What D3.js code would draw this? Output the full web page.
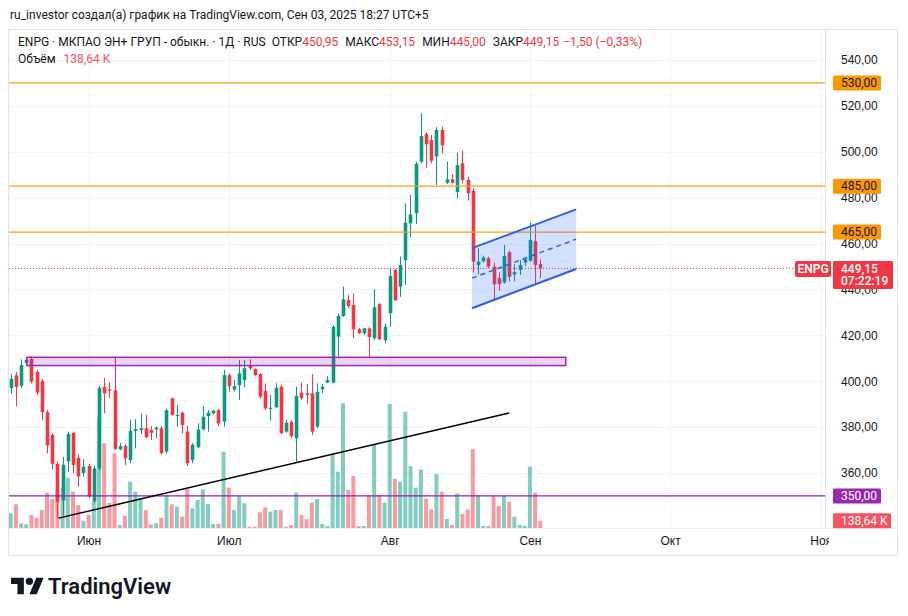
<!DOCTYPE html>
<html>
<head>
<meta charset="utf-8">
<script src="https://cdn.jsdelivr.net/npm/d3@7"></script>
<style>
  body { margin: 0; background: #fff; }
  svg { display: block; font-family: Roboto, "Noto Sans", sans-serif; }
</style>
</head>
<body>
<div id="chart"></div>
<script>
// daily bars, ENPG, mid-May .. 3 Sep 2025 (bar index = position)
const opens  = [397,402.5,398,408,409.7,404,400,386.5,376.5,364,348,365,377.5,366.5,360,363,347.5,362,397.5,396.4,396,370.3,371.7,365.6,378.3,378.7,379.5,378.7,379,379.5,369.3,392.5,384.8,386.3,378,365.6,371.2,379,384.8,386,387.4,382.4,402.6,396.4,398.3,400.5,407,405.3,403.1,395.7,387.9,388.6,397.6,378,382.3,375.1,395,394.7,394.7,380.2,396.5,399.4,399.4,419.4,428.4,435.4,433.2,422.6,420.9,423,418.7,433.6,417.9,429.6,448.5,441.2,452.8,468.8,473.2,495.7,507.7,505.1,497.9,509.5,486.5,488,482.5,495,487.7,483,450.6,452.3,453.6,449.9,445,443,456.2,446.5,448.5,451.7,452.5,461,450.95];
const highs  = [403,404,409.5,410.5,411,405,401,387.5,377.5,365,367,378,378,368,366,364,363,398,401.5,399.6,410.7,373,372.5,383.1,383.4,386,385.3,380.4,380.4,380.5,388,392.8,389.6,386.7,380.5,373,381.6,389.2,387.4,387.5,388,404.9,403.4,400.5,409.2,409.2,409.5,405.6,403.5,399,394,399.1,398.3,383.1,383,397.6,399.4,398.8,403.1,399,398.8,402.2,424.5,429.5,441.2,437.6,438.3,423.3,423.3,423.5,440.1,434,425.2,448.8,449,454.3,477.5,481.2,495.7,516.8,508.5,507.3,510.7,510.9,495.7,490.3,499.6,500.5,489,484.1,457.9,454.5,454.3,451.6,447.5,459.4,456.9,451,452.8,453.6,469.3,467.8,453.15];
const lows   = [394.5,389,397,407.5,399,394,383,368.5,361.5,340.5,341.5,360.5,360,354,358.5,349,347,361,386,392.6,370,369.8,363.5,364.2,370.7,377,375.1,374.4,375.1,368,368.5,385,380.1,377.3,363,364.3,370.7,378.5,378,385.5,380.4,380.2,395.4,395.4,391.8,397.3,404.9,402.4,392.5,387.5,382.8,388.2,377,377.5,375.1,364.5,391.9,390.1,376.5,379.5,394.7,399.1,399,410.7,428,431.8,418.7,420.6,420.2,410.5,418,418,416.5,423.7,435,436.8,441.9,462.7,468.5,495,492.8,495,485.5,499.3,486,486.2,479.7,486.2,478.7,447.3,446.5,451.8,449.2,435.4,439.5,442.5,443.4,443.5,446.3,450.2,452,441.9,445];
const closes = [401,397.5,407,409.3,399.8,395,386.5,372,364,347.5,363.5,377,363.5,358.5,362.7,349.8,362,397,394.7,395.8,370.5,371.7,366.4,378.3,379.1,379.5,375.6,377.5,379.7,368.6,387.4,385.3,385.3,380.9,364.2,372.2,379,384.5,386.3,387.1,381.6,402.6,397.8,397.8,403.4,405.6,405.6,402.6,393.2,388.1,388.4,397.1,377.3,381.9,376.1,393.5,392.6,394,378,395.4,397.6,400.5,423.7,428.4,435.7,432.8,422.6,420.9,423,419.2,432.2,418.2,423.7,445.8,435.4,450.6,469.1,472.7,494.7,506.9,503.3,496.1,509.5,502.9,488,486.5,494.2,487.7,481.9,452.1,452.1,453.9,449.9,442.2,442.3,454.6,445.5,447.5,450.6,453.1,461.5,450.65,449.15];
// volume, thousands of shares
const volumes = [280,450,90,70,247,196,342,671,545,722,760,956,690,437,139,247,500,2109,1609,475,1419,57,234,880,690,564,342,70,89,196,614,450,405,215,741,374,532,735,456,76,76,1450,766,342,608,469,25,25,298,393,310,342,342,25,57,671,247,165,481,551,76,38,1419,1070,2369,722,988,38,38,627,1577,627,481,2356,931,880,2210,1178,766,1115,551,355,1026,690,171,57,659,266,355,1501,621,38,38,608,418,608,500,215,57,38,1165,671,138.64];

const monthLabels = ['Июн', 'Июл', 'Авг', 'Сен', 'Окт', 'Ноя'];
const monthIdx = [15, 42, 73, 100, 127, 156];
const priceTicks = [540, 520, 500, 480, 460, 440, 420, 400, 380, 360];

// drawings on the chart
const resistLevels = [530, 485, 465];
const supportLevel = 350;
const zoneBars = [3.1, 106.9], zonePrices = [406.8, 410.4];
const trendBars = [9.2, 96], trendPrices = [340.3, 386.1];
const channelBars = [88.85, 108.9], channelTop = [458.0, 474.9], channelBottom = [431.8, 448.9];

const W = 908, H = 616;
const PLOT = { left: 9, right: 825, top: 30, bottom: 528 };
const UP = '#089981', DOWN = '#f23645';

const ru = d3.formatLocale({ decimal: ',', thousands: ' ', grouping: [3], currency: ['', ''], minus: '\u2212' });
const fmt = ru.format('.2f');

const svg = d3.select('#chart').append('svg')
    .attr('width', W).attr('height', H);

const x = d3.scaleLinear().domain([0, closes.length - 1]).range([10.7, 540.3]);
const y = d3.scaleLinear().domain([336, 540]).range([PLOT.bottom, 60]);
const yVol = d3.scaleLinear().domain([0, 2500]).range([PLOT.bottom, PLOT.bottom - 131.6]);

// header
svg.append('text')
    .attr('x', 10).attr('y', 19)
    .attr('font-size', 12).attr('fill', '#131722')
    .text('ru_investor создал(а) график на TradingView.com, Сен 03, 2025 18:27 UTC+5');

// frame
svg.append('rect')
    .attr('x', 8.5).attr('y', 29.5).attr('width', 889).attr('height', 526)
    .attr('fill', 'none').attr('stroke', '#e0e3eb');

svg.append('defs').append('clipPath').attr('id', 'plotClip')
    .append('rect')
    .attr('x', PLOT.left).attr('y', PLOT.top)
    .attr('width', PLOT.right - PLOT.left).attr('height', PLOT.bottom - PLOT.top);
svg.select('defs').append('clipPath').attr('id', 'timeClip')
    .append('rect').attr('x', PLOT.left).attr('y', PLOT.bottom).attr('width', 820).attr('height', 27);

const plot = svg.append('g').attr('clip-path', 'url(#plotClip)');

// grid
plot.append('g').selectAll('line').data(priceTicks).join('line')
    .attr('x1', PLOT.left).attr('x2', PLOT.right)
    .attr('y1', d => Math.round(y(d)) + 0.5).attr('y2', d => Math.round(y(d)) + 0.5)
    .attr('stroke', '#f0f3fa');
plot.append('g').selectAll('line').data(monthIdx).join('line')
    .attr('x1', d => Math.round(x(d)) + 0.5).attr('x2', d => Math.round(x(d)) + 0.5)
    .attr('y1', PLOT.top).attr('y2', PLOT.bottom)
    .attr('stroke', '#f0f3fa');

// volume
const bars = d3.range(closes.length);
const isUp = i => closes[i] >= opens[i];
plot.append('g').selectAll('rect').data(bars).join('rect')
    .attr('x', i => x(i) - 2).attr('width', 4)
    .attr('y', i => yVol(volumes[i]))
    .attr('height', i => PLOT.bottom - yVol(volumes[i]))
    .attr('fill', i => isUp(i) ? UP : DOWN)
    .attr('fill-opacity', 0.5);

// candles
const candles = plot.append('g').selectAll('g').data(bars).join('g');
candles.append('line')
    .attr('x1', i => Math.round(x(i)) + 0.5).attr('x2', i => Math.round(x(i)) + 0.5)
    .attr('y1', i => y(highs[i])).attr('y2', i => y(lows[i]))
    .attr('stroke', i => isUp(i) ? UP : DOWN);
candles.append('rect')
    .attr('x', i => Math.round(x(i)) + 0.5 - 1.8).attr('width', 3.6)
    .attr('y', i => y(Math.max(opens[i], closes[i])))
    .attr('height', i => Math.max(1, Math.abs(y(opens[i]) - y(closes[i]))))
    .attr('fill', i => isUp(i) ? UP : DOWN);

// zone
plot.append('rect')
    .attr('x', x(zoneBars[0])).attr('width', x(zoneBars[1]) - x(zoneBars[0]))
    .attr('y', y(zonePrices[1])).attr('height', y(zonePrices[0]) - y(zonePrices[1]))
    .attr('fill', 'rgba(156,39,176,0.2)').attr('stroke', '#9c27b0').attr('stroke-width', 1.5);

// horizontal levels
plot.append('g').selectAll('line').data(resistLevels).join('line')
    .attr('x1', PLOT.left).attr('x2', PLOT.right)
    .attr('y1', d => y(d)).attr('y2', d => y(d))
    .attr('stroke', '#f5a11c').attr('stroke-width', 1.2);
plot.append('line')
    .attr('x1', PLOT.left).attr('x2', PLOT.right)
    .attr('y1', y(supportLevel)).attr('y2', y(supportLevel))
    .attr('stroke', '#8e24aa').attr('stroke-width', 1.2);

// trend line
plot.append('line')
    .attr('x1', x(trendBars[0])).attr('y1', y(trendPrices[0]))
    .attr('x2', x(trendBars[1])).attr('y2', y(trendPrices[1]))
    .attr('stroke', '#000').attr('stroke-width', 1.5);

// parallel channel
const cx0 = x(channelBars[0]), cx1 = x(channelBars[1]);
plot.append('path')
    .attr('d', `M${cx0},${y(channelTop[0])}L${cx1},${y(channelTop[1])}L${cx1},${y(channelBottom[1])}L${cx0},${y(channelBottom[0])}Z`)
    .attr('fill', 'rgba(41,98,255,0.2)');
[channelTop, channelBottom].forEach(p => {
    plot.append('line')
        .attr('x1', cx0).attr('y1', y(p[0])).attr('x2', cx1).attr('y2', y(p[1]))
        .attr('stroke', '#2f5fdc').attr('stroke-width', 2);
});
plot.append('line')
    .attr('x1', cx0).attr('y1', y((channelTop[0] + channelBottom[0]) / 2))
    .attr('x2', cx1).attr('y2', y((channelTop[1] + channelBottom[1]) / 2))
    .attr('stroke', '#2f5fdc').attr('stroke-width', 1.5).attr('stroke-dasharray', '5,4');

// last price line
const last = closes.length - 1;
plot.append('line')
    .attr('x1', PLOT.left).attr('x2', 795)
    .attr('y1', y(closes[last])).attr('y2', y(closes[last]))
    .attr('stroke', DOWN).attr('stroke-dasharray', '1,2');

// separators
svg.append('line').attr('x1', PLOT.right + 0.5).attr('x2', PLOT.right + 0.5)
    .attr('y1', 29.5).attr('y2', PLOT.bottom).attr('stroke', '#e0e3eb');
svg.append('line').attr('x1', 8.5).attr('x2', 897.5)
    .attr('y1', PLOT.bottom + 0.5).attr('y2', PLOT.bottom + 0.5).attr('stroke', '#eef0f4');

// price axis
const yAxis = svg.append('g')
    .attr('transform', `translate(833,0)`)
    .call(d3.axisRight(y).tickValues(priceTicks).tickFormat(fmt).tickSize(0).tickPadding(8));
yAxis.select('.domain').remove();
yAxis.selectAll('text').attr('font-size', 12).attr('fill', '#131722').attr('font-family', null);

// time axis
const xAxis = svg.append('g')
    .attr('clip-path', 'url(#timeClip)')
    .append('g')
    .attr('transform', `translate(0,${PLOT.bottom})`)
    .call(d3.axisBottom(x).tickValues(monthIdx).tickFormat((d, i) => monthLabels[i]).tickSize(0).tickPadding(8));
xAxis.select('.domain').remove();
xAxis.selectAll('text').attr('font-size', 12).attr('fill', '#131722').attr('font-family', null);

// axis labels
function axisTag(yc, text, bg, fg, w) {
    svg.append('rect').attr('x', 833).attr('y', yc - 7.5).attr('width', w).attr('height', 15)
        .attr('rx', 1.5).attr('fill', bg);
    svg.append('text').attr('x', 841).attr('y', yc + 4.3)
        .attr('font-size', 12).attr('fill', fg).text(text);
}
resistLevels.forEach(v => axisTag(y(v), fmt(v), '#ff9800', '#131722', 48));
axisTag(y(supportLevel), fmt(supportLevel), '#9c27b0', '#fff', 48);
axisTag(yVol(volumes[last]), fmt(volumes[last]) + ' K', '#f7525f', '#fff', 58);

// last price tag
const yl = y(closes[last]);
svg.append('rect').attr('x', 795).attr('y', yl - 7.5).attr('width', 36).attr('height', 16)
    .attr('rx', 2).attr('fill', DOWN);
svg.append('text').attr('x', 813).attr('y', yl + 4.5).attr('text-anchor', 'middle')
    .attr('font-size', 12).attr('font-weight', 600).attr('fill', '#fff').text('ENPG');
svg.append('rect').attr('x', 833).attr('y', yl - 7.5).attr('width', 60).attr('height', 28)
    .attr('rx', 1.5).attr('fill', DOWN);
svg.append('text').attr('x', 841).attr('y', yl + 4.3)
    .attr('font-size', 12).attr('font-weight', 500).attr('fill', '#fff').text(fmt(closes[last]));
svg.append('text').attr('x', 841).attr('y', yl + 17)
    .attr('font-size', 12).attr('font-weight', 500).attr('fill', '#fff').text('07:22:19');

// legend
const chg = closes[last] - closes[last - 1];
const pct = chg / closes[last - 1] * 100;
const leg = svg.append('text').attr('x', 18).attr('y', 46).attr('font-size', 12).attr('fill', '#131722');
const parts = [
    ['ENPG · МКПАО ЭН+ ГРУП - обыкн. · 1Д · RUS', '#131722', 0],
    ['ОТКР', '#131722', 6], [fmt(opens[last]), DOWN, 0],
    ['МАКС', '#131722', 7], [fmt(highs[last]), DOWN, 0],
    ['МИН', '#131722', 7], [fmt(lows[last]), DOWN, 0],
    ['ЗАКР', '#131722', 7], [fmt(closes[last]), DOWN, 0],
    [`${fmt(chg)} (${fmt(pct)}%)`, DOWN, 4]
];
parts.forEach(p => leg.append('tspan').attr('dx', p[2]).attr('fill', p[1]).text(p[0]));
const leg2 = svg.append('text').attr('x', 18).attr('y', 63).attr('font-size', 12).attr('fill', '#131722');
leg2.append('tspan').text('Объём');
leg2.append('tspan').attr('dx', 8).attr('fill', '#f7525f').text(fmt(volumes[last]) + ' K');

// logo
const logo = svg.append('g').attr('transform', 'translate(11,574) scale(0.92)');
logo.append('path').attr('d', 'M14 22H7V11H0V4h14v18zM28 22h-8l7.5-18h8L28 22z').attr('fill', '#131722');
logo.append('circle').attr('cx', 20).attr('cy', 8).attr('r', 4).attr('fill', '#131722');
svg.append('text').attr('x', 48).attr('y', 594)
    .attr('font-size', 22).attr('font-weight', 600).attr('fill', '#131722')
    .text('TradingView');
</script>
</body>
</html>
